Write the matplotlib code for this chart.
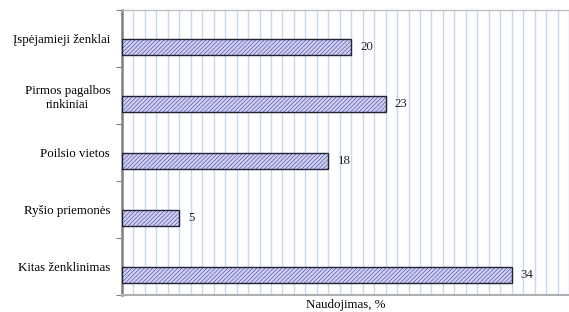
import matplotlib.pyplot as plt
import numpy as np

plt.rcParams["font.family"] = ["Liberation Serif", "DejaVu Serif"]
plt.rcParams["hatch.color"] = "#b4b4ee"
plt.rcParams["hatch.linewidth"] = 0.3

# --- duomenys ---
categories = ["Įspėjamieji ženklai", "Pirmos pagalbos\nrinkiniai", "Poilsio vietos",
              "Ryšio priemonės", "Kitas ženklinimas"]
values = [20, 23, 18, 5, 34]

fig = plt.figure(figsize=(5.69, 3.12), dpi=100)
ax = fig.add_axes([122 / 569, 17 / 312, 447 / 569, 285 / 312])

y = np.arange(len(categories))
ax.barh(y + 0.15, values, height=0.28, color="#ccccff", edgecolor="#222233",
        linewidth=1.0, hatch="////////", zorder=3)

for yi, v in zip(y, values):
    ax.text(v + 0.8, yi + 0.15, str(v), va="center", ha="left", fontsize=9.3, color="#222222")

ax.set_xlim(0, 39)
ax.set_ylim(len(categories) - 0.5, -0.5)
ax.set_xticks(np.arange(0, 40, 1))
ax.tick_params(axis="x", length=0, labelbottom=False)
ax.grid(axis="x", color="#c6d9f1", linewidth=1.0, zorder=0)

ax.set_yticks(y)
ax.set_yticklabels(categories, fontsize=9.3, linespacing=1.25)
for lab in ax.get_yticklabels():
    lab.set_multialignment("center")
ax.set_yticks(np.arange(-0.5, len(categories), 1), minor=True)
ax.tick_params(axis="y", which="major", length=0, pad=8.5)
ax.tick_params(axis="y", which="minor", length=4, color="#808080", width=0.8)

ax.spines["left"].set_color("#808080")
ax.spines["left"].set_linewidth(1.8)
ax.spines["bottom"].set_color("#b0b0b0")
ax.spines["bottom"].set_linewidth(1.5)
ax.spines["top"].set_color("#c0c0c0")
ax.spines["top"].set_linewidth(1.0)
ax.spines["right"].set_visible(False)

ax.set_xlabel("Naudojimas, %", fontsize=9.3, labelpad=3)

fig.savefig("out.png", dpi=100, facecolor="white")
